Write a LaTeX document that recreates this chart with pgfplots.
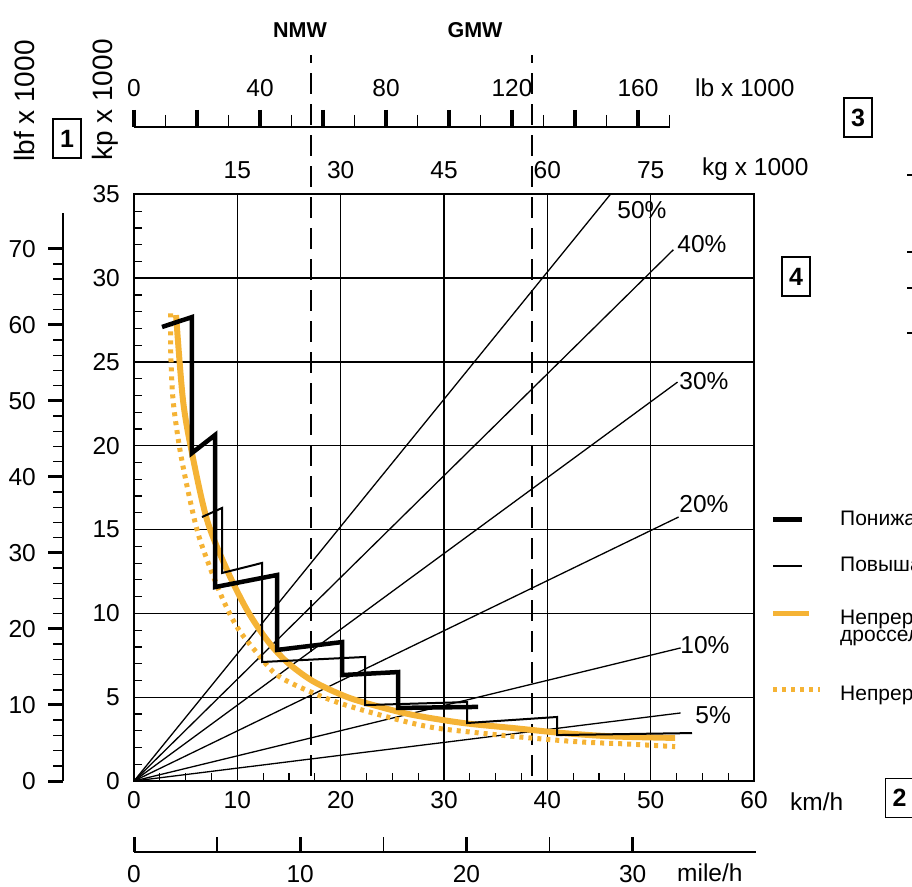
\documentclass[border=0pt]{standalone}
\usepackage{pgfplots}
\pgfplotsset{compat=1.18}
\usepackage{fontspec}
\setmainfont{Liberation Sans}

\definecolor{gelb}{HTML}{F5B335}
\newcommand{\lab}{\fontsize{24.5}{26}\selectfont}

\pgfplotsset{
  every axis/.append style={
    scale only axis,
    tick label style={font=\lab, inner sep=0pt},
    /pgf/number format/assume math mode=true,
  },
}

\begin{document}
\begin{tikzpicture}[x=1pt,y=1pt]
\useasboundingbox (0,0) rectangle (912,886);

% main diagram: tractive force (kp x 1000) over speed (km/h)
\begin{axis}[
  at={(134pt,105pt)}, anchor=south west,
  width=620pt, height=586.6pt,
  xmin=0, xmax=60, ymin=0, ymax=35,
  xtick={0,10,...,60}, ytick={0,5,...,35},
  minor x tick num=3, minor y tick num=4,
  xtick pos=bottom, ytick pos=left,
  tick align=inside,
  major tick length=0pt, minor tick length=8pt,
  minor tick style={line width=1.2pt, black},
  grid=major,
  major grid style={line width=1.4pt, black},
  axis line style={line width=2.2pt},
  xticklabel style={yshift=-10pt},
  yticklabel style={xshift=-14pt},
  clip=false,
]
% gradient lines
\addplot[black, line width=1.3pt] coordinates {(0,0) (46.1,35)};
\addplot[black, line width=1.3pt] coordinates {(0,0) (52.2,31.7)};
\addplot[black, line width=1.3pt] coordinates {(0,0) (52.6,23.8)};
\addplot[black, line width=1.3pt] coordinates {(0,0) (52.7,15.75)};
\addplot[black, line width=1.3pt] coordinates {(0,0) (52.9,7.94)};
\addplot[black, line width=1.3pt] coordinates {(0,0) (52.9,4.06)};
\node[anchor=west, inner sep=0pt, font=\lab] at (axis cs:46.76,34.07) {50\%};
\node[anchor=west, inner sep=0pt, font=\lab] at (axis cs:52.57,32.04) {40\%};
\node[anchor=west, inner sep=0pt, font=\lab] at (axis cs:52.76,23.87) {30\%};
\node[anchor=west, inner sep=0pt, font=\lab] at (axis cs:52.76,16.53) {20\%};
\node[anchor=west, inner sep=0pt, font=\lab] at (axis cs:52.86,8.11) {10\%};
\node[anchor=west, inner sep=0pt, font=\lab] at (axis cs:54.31,3.94) {5\%};

% NMW / GMW
\addplot[black, line width=2pt, dash pattern=on 21pt off 10pt] coordinates {(17.15,0.3) (17.15,43.3)};
\addplot[black, line width=2pt, dash pattern=on 21pt off 10pt] coordinates {(38.5,0.3) (38.5,43.3)};

% continuous curves
\addplot[gelb, line width=5pt, dash pattern=on 4pt off 5pt, smooth, tension=0.5] coordinates {
  (3.55,27.9) (3.55,25.7) (3.78,22.73) (4.45,19.75) (5.42,16.77) (6.39,14.38)
  (8.33,11.22) (9.97,9.19) (11.91,7.64) (14.13,6.2) (18.97,4.85) (23.81,3.94)
  (28.65,3.22) (33.49,2.86) (38.33,2.57) (43.18,2.33) (48.0,2.2) (52.37,2.05)
};
\addplot[gelb, line width=6pt, smooth, tension=0.5] coordinates {
  (4.07,27.8) (4.74,22.73) (5.61,19.57) (7.07,15.57) (9.0,12.59) (10.94,10.2)
  (12.87,8.41) (14.8,7.1) (17.33,5.95) (20.62,5.01) (23.81,4.42) (27.0,3.94)
  (31.85,3.46) (36.69,3.16) (41.53,2.86) (46.37,2.66) (52.37,2.57)
};

% high range (thin)
\addplot[black, line width=2pt, line join=miter] coordinates {
  (6.58,15.75) (8.52,16.29) (8.52,12.41) (12.39,13.01) (12.39,7.10) (22.36,7.40)
  (22.36,4.53) (32.24,4.71) (32.24,3.46) (40.95,3.82) (40.95,2.74) (54.0,2.86)
};
% low range (thick)
\addplot[black, line width=4.5pt, line join=miter] coordinates {
  (2.71,27.09) (5.61,27.68) (5.61,19.57) (7.84,20.64) (7.84,11.57) (13.84,12.29)
  (13.84,7.82) (20.14,8.29) (20.14,6.32) (25.56,6.50) (25.56,4.36) (33.3,4.42)
};
\end{axis}

% kg x 1000 labels above the diagram
\begin{axis}[
  at={(134pt,105pt)}, anchor=south west,
  width=620pt, height=586.6pt,
  xmin=0, xmax=90, ymin=0, ymax=1,
  axis y line=none, axis x line*=top,
  x axis line style={draw=none},
  major tick length=0pt,
  xtick={15,30,...,75},
  xticklabel style={yshift=15pt},
]
\end{axis}

% lbf x 1000 scale
\begin{axis}[
  at={(63pt,105pt)}, anchor=south west,
  width=1pt, height=567.9pt,
  xmin=0, xmax=1, ymin=0, ymax=74.7,
  axis x line=none, axis y line=left,
  y axis line style={-, line width=2.5pt},
  ytick={0,10,...,70}, minor y tick num=4,
  tick align=outside,
  major tick length=15pt, minor tick length=10pt,
  major tick style={line width=3pt, black},
  minor tick style={line width=1.5pt, black},
  yticklabel style={xshift=-12pt},
]
\end{axis}

% lb x 1000 scale
\begin{axis}[
  at={(134pt,759pt)}, anchor=north west,
  width=535.5pt, height=1pt,
  xmin=0, xmax=170, ymin=0, ymax=1,
  axis y line=none, axis x line=top,
  x axis line style={-, line width=2.5pt},
  xtick={0,20,...,160}, xticklabels={0,,40,,80,,120,,160},
  minor x tick num=1,
  extra x ticks={170}, extra x tick labels={},
  extra x tick style={major tick length=12pt, major tick style={line width=1.5pt, black}},
  tick align=outside,
  major tick length=17pt, minor tick length=12pt,
  major tick style={line width=3.5pt, black},
  minor tick style={line width=1.5pt, black},
  xticklabel style={yshift=13pt},
]
\end{axis}

% mile/h scale
\begin{axis}[
  at={(134pt,34pt)}, anchor=south west,
  width=622pt, height=1pt,
  xmin=0, xmax=37.42, ymin=0, ymax=1,
  axis y line=none, axis x line=bottom,
  x axis line style={-, line width=2.5pt},
  xtick={0,10,20,30}, minor x tick num=1,
  tick align=inside,
  major tick length=15pt, minor tick length=15pt,
  major tick style={line width=3pt, black},
  minor tick style={line width=1.5pt, black},
  xticklabel style={yshift=-13pt},
]
\end{axis}

% unit labels
\node[anchor=west, inner sep=0pt, font=\lab] at (790,84) {km/h};
\node[anchor=west, inner sep=0pt, font=\lab] at (677,13) {mile/h};
\node[anchor=west, inner sep=0pt, font=\lab] at (702,717) {kg x 1000};
\node[anchor=west, inner sep=0pt, font=\lab] at (695,798) {lb x 1000};
\node[rotate=90, inner sep=0pt, font=\fontsize{28}{29}\selectfont] at (24,785) {lbf x 1000};
\node[rotate=90, inner sep=0pt, font=\fontsize{28}{29}\selectfont] at (105,786) {kp x 1000};
\node[inner sep=0pt, font=\fontsize{21.5}{22}\selectfont\bfseries] at (300,856) {NMW};
\node[inner sep=0pt, font=\fontsize{21.5}{22}\selectfont\bfseries] at (475,856) {GMW};

% numbered boxes
\tikzset{nbox/.style={draw, line width=1.6pt, minimum width=28pt, minimum height=39pt,
  inner sep=0pt, font=\fontsize{25}{26}\selectfont\bfseries}}
\node[nbox] at (67,747.5) {1};
\node[nbox] at (858,768.5) {3};
\node[nbox] at (796,609.5) {4};
\node[nbox] at (899.5,88) {2};

% legend
\draw[black, line width=5pt] (773,366) -- (802,366);
\draw[black, line width=2pt] (773,320) -- (802,320);
\draw[gelb, line width=5pt] (773,272) -- (809,272);
\draw[gelb, line width=5pt, dash pattern=on 4pt off 5pt] (773,196) -- (820,196);
\node[anchor=west, inner sep=0pt, font=\fontsize{21}{22}\selectfont] at (840,366) {Понижающая передача};
\node[anchor=west, inner sep=0pt, font=\fontsize{21}{22}\selectfont] at (840,320) {Повышающая передача};
\node[anchor=west, inner sep=0pt, align=left, font=\fontsize{21}{17}\selectfont] at (840,258)
  {Непрерывная передача, полностью открытая\\дроссельная заслонка};
\node[anchor=west, inner sep=0pt, font=\fontsize{21}{22}\selectfont] at (840,191) {Непрерывная передача, оптимальный расход};

% cut marks at the right edge
\foreach \yy in {711,634,598,553} \draw[line width=1.5pt] (907,\yy) -- (912,\yy);
\end{tikzpicture}
\end{document}
